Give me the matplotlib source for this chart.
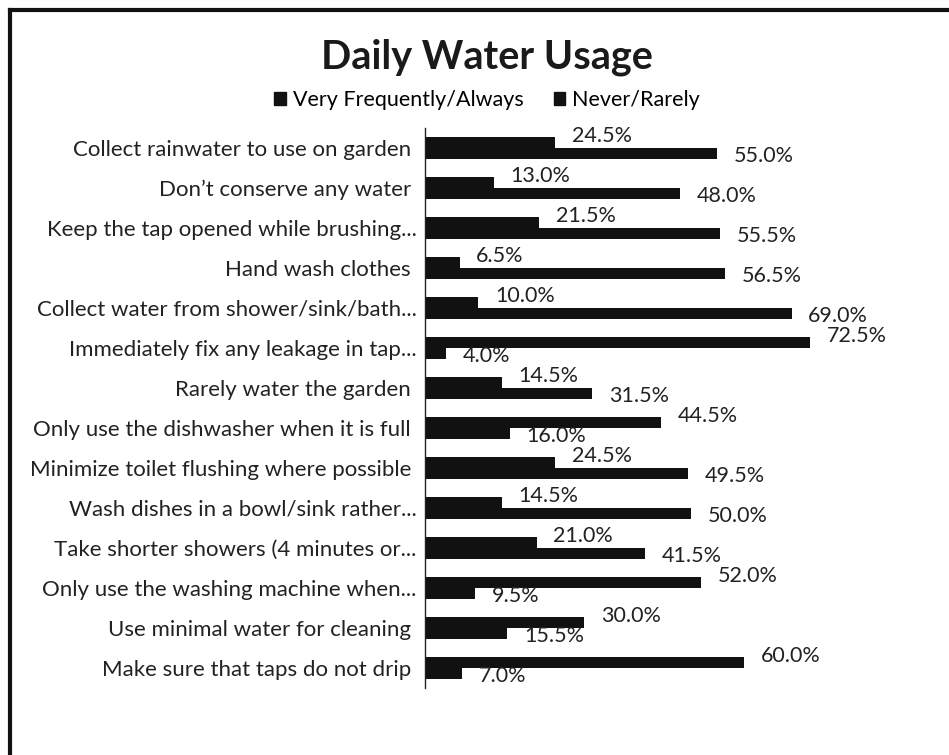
import matplotlib.pyplot as plt
from matplotlib.lines import Line2D
from matplotlib.patches import Patch

plt.rcParams['font.family'] = ['Lato', 'DejaVu Sans']

categories = [
    'Collect rainwater to use on garden ',
    'Don\u2019t conserve any water ',
    'Keep the tap opened while brushing...',
    'Hand wash clothes ',
    'Collect water from shower/sink/bath...',
    'Immediately fix any leakage in tap...',
    'Rarely water the garden ',
    'Only use the dishwasher when it is full ',
    'Minimize toilet flushing where possible ',
    'Wash dishes in a bowl/sink rather...',
    'Take shorter showers (4 minutes or...',
    'Only use the washing machine when...',
    'Use minimal water for cleaning ',
    'Make sure that taps do not drip ',
]
always = [24.5, 13.0, 21.5, 6.5, 10.0, 72.5, 14.5, 44.5, 24.5, 14.5, 21.0, 52.0, 30.0, 60.0]
never = [55.0, 48.0, 55.5, 56.5, 69.0, 4.0, 31.5, 16.0, 49.5, 50.0, 41.5, 9.5, 15.5, 7.0]
series_names = ['Very Frequently/Always', 'Never/Rarely']

W, H = 949, 755
fig = plt.figure(figsize=(W / 100, H / 100), dpi=100)
ax = fig.add_axes([425 / W, 1 - 688 / H, 475 / W, 560 / H])

bar_h = 0.275
pos = list(range(len(categories)))
top_pos = [p - bar_h / 2 for p in pos]
low_pos = [p + bar_h / 2 for p in pos]
ax.barh(top_pos, always, height=bar_h, color='#111111')
ax.barh(low_pos, never, height=bar_h, color='#111111')

for y, v in zip(top_pos, always):
    ax.annotate(f'{v:.1f}%', (v, y), xytext=(12, 5), textcoords='offset points',
                ha='left', va='center', fontsize=15.5, color='#222222')
for y, v in zip(low_pos, never):
    ax.annotate(f'{v:.1f}%', (v, y), xytext=(12, -2), textcoords='offset points',
                ha='left', va='center', fontsize=15.5, color='#222222')

ax.set_xlim(0, 89.4)
ax.set_ylim(len(categories) - 0.5, -0.5)
ax.set_yticks(pos)
ax.set_yticklabels(categories, fontsize=16, color='#222222')
ax.tick_params(axis='y', length=0, pad=6)
ax.set_xticks([])
for side in ['top', 'right', 'bottom']:
    ax.spines[side].set_visible(False)
ax.spines['left'].set_color('#222222')
ax.spines['left'].set_linewidth(1.0)

fig.text(487 / W, 1 - 57 / H, 'Daily Water Usage', ha='center', va='center',
         fontsize=28.5, fontweight='bold', color='#1a1a1a')

handles = [Patch(color='#111111') for _ in series_names]
fig.legend(handles, series_names, loc='center', bbox_to_anchor=(487 / W, 1 - 100 / H),
           ncol=2, frameon=False, fontsize=15.5, handlelength=0.55, handleheight=0.55,
           handletextpad=0.3, columnspacing=1.4)

# frame lines along the left and top edges
fig.add_artist(Line2D([10 / W, 10 / W], [0, 1 - 10 / H], color='#111111', lw=3))
fig.add_artist(Line2D([10 / W, 1], [1 - 10 / H, 1 - 10 / H], color='#111111', lw=3))

fig.savefig('out.png', dpi=100)
